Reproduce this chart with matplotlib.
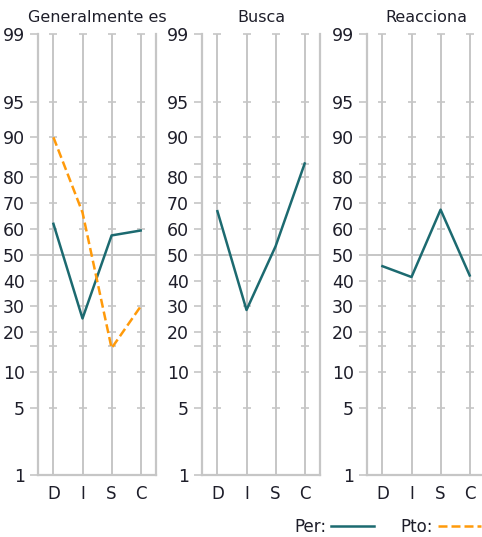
import numpy as np
import matplotlib
matplotlib.use("Agg")
import matplotlib.pyplot as plt
from matplotlib.lines import Line2D

plt.rcParams["font.family"] = ["DejaVu Sans"]

# datos
categorias = ["D", "I", "S", "C"]
titulos = ["Generalmente es", "Busca", "Reacciona"]
per = [
    [62, 25.3, 57.5, 59.4],
    [66.9, 28.6, 53.3, 85],
    [45.6, 41.4, 67.5, 42],
]
pto = [90, 66.4, 14.6, 30]  # solo en el primer panel

ticks = [1, 5, 10, 15, 20, 30, 40, 50, 60, 70, 80, 85, 90, 95, 99]
tick_labels = ["1", "5", "10", "", "20", "30", "40", "50", "60", "70", "80", "", "90", "95", "99"]

# escala del eje (tramos lineales, simetrica alrededor de 50)
P_KNOTS = np.array([1, 5, 10, 15, 20, 30, 40, 50, 60, 70, 80, 85, 90, 95, 99], dtype=float)
U_KNOTS = np.array([-221, -153.6, -117.8, -91.5, -77.5, -51.7, -25.9, 0,
                    25.9, 51.7, 77.5, 91.5, 117.8, 153.6, 221])


def _fwd(p):
    return np.interp(p, P_KNOTS, U_KNOTS)


def _inv(u):
    return np.interp(u, U_KNOTS, P_KNOTS)


GRIS = "#c6c6c6"
TEAL = "#1c6a70"
NARANJA = "#ff9a0a"
TEXTO = "#1e1e2a"
DASH = (0, (3.6, 1.6))

fig = plt.figure(figsize=(4.82, 5.37), dpi=100)

lefts = [38.3, 202.3, 367.3]
ancho = 117.5
for k, left in enumerate(lefts):
    ax = fig.add_axes([left / 482, (537 - 475.3) / 537, ancho / 482, (475.3 - 34.3) / 537])
    ax.set_yscale("function", functions=(_fwd, _inv))
    ax.set_ylim(1, 99)
    ax.set_xlim(-0.52, 3.52)
    x = np.arange(len(categorias))

    # lineas guia
    for xi in x:
        ax.axvline(xi, color=GRIS, lw=1.4, zorder=1)
        ax.plot([xi] * len(ticks), ticks, ls="none", marker="_", ms=6, mew=1.2,
                color=GRIS, zorder=1, clip_on=False)
    ax.axhline(50, color=GRIS, lw=1.4, zorder=1)

    ax.plot(x, per[k], color=TEAL, lw=1.8, zorder=3)
    if k == 0:
        ax.plot(x, pto, color=NARANJA, lw=1.8, ls=DASH, zorder=3)

    ax.set_yticks(ticks)
    ax.set_yticklabels(tick_labels)
    ax.minorticks_off()
    ax.set_xticks(x)
    ax.set_xticklabels(categorias)
    ax.tick_params(axis="y", length=5.5, width=1.2, color=GRIS, pad=4,
                   labelsize=12.5, labelcolor=TEXTO)
    ax.tick_params(axis="x", length=0, pad=7, labelsize=12, labelcolor=TEXTO)

    for lado in ["left", "right", "bottom"]:
        ax.spines[lado].set_color(GRIS)
        ax.spines[lado].set_linewidth(1.6)
    ax.spines["top"].set_visible(False)
    ax.set_facecolor("none")

    ax.set_title(titulos[k], fontsize=11.5, color=TEXTO, pad=9)

handles = [
    Line2D([], [], color=TEAL, lw=1.8),
    Line2D([], [], color=NARANJA, lw=1.8, ls=DASH),
]
fig.legend(handles, ["Per:", "Pto:"], loc="center right", bbox_to_anchor=(1.03, (537 - 527) / 537),
           ncol=2, frameon=False, markerfirst=False, fontsize=12, handlelength=2.6,
           handletextpad=0.3, columnspacing=1.57, labelcolor=TEXTO)

fig.savefig("out.png", dpi=100)
